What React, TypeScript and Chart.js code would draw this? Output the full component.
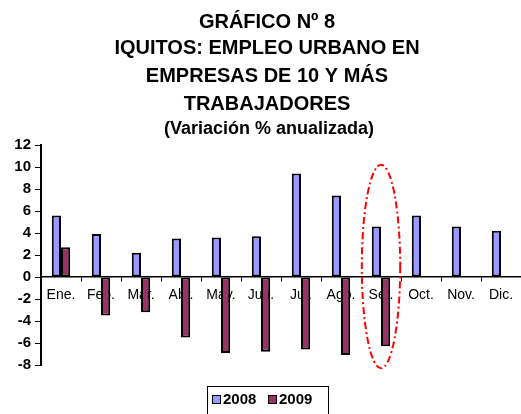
import React, { useEffect, useRef } from "react";
import { Chart, registerables } from "chart.js";

Chart.register(...registerables);

// ---- data ----
const categories = ["Ene.", "Feb.", "Mar.", "Abr.", "May.", "Jun.", "Jul.", "Ago.", "Set.", "Oct.", "Nov.", "Dic."];
const series2008: (number | null)[] = [5.6, 3.9, 2.2, 3.5, 3.6, 3.7, 9.4, 7.4, 4.6, 5.6, 4.6, 4.2];
const series2009: (number | null)[] = [2.7, -3.5, -3.2, -5.5, -6.9, -6.8, -6.6, -7.1, -6.3, null, null, null];
const seriesLabels = ["2008", "2009"];
const yMin = -8;
const yMax = 12;
const yStep = 2;
const titleLines = ["GRÁFICO Nº 8", "IQUITOS: EMPLEO URBANO EN", "EMPRESAS DE 10 Y MÁS", "TRABAJADORES"];
const subtitleText = "(Variación % anualizada)";
const highlightCategory = "Set.";
const highlightTop = 10.2;
const highlightBottom = -8.3;

// ---- styles ----
const FONT = "'Liberation Sans', Arial, sans-serif";
const COLORS = ["#9999FF", "#993366"];

const titlePlugin = {
  id: "customTitle",
  afterDraw(chart: any) {
    const ctx = chart.ctx;
    ctx.save();
    ctx.fillStyle = "#000";
    ctx.textAlign = "center";
    ctx.textBaseline = "alphabetic";
    const cx = 267;
    const baselines = [27.5, 54, 82, 110];
    ctx.font = `bold 20px ${FONT}`;
    titleLines.forEach((t, i) => ctx.fillText(t, cx, baselines[i]));
    ctx.font = `bold 18px ${FONT}`;
    ctx.fillText(subtitleText, 269, 134);
    ctx.restore();
  },
};

const ellipsePlugin = {
  id: "highlightEllipse",
  afterDraw(chart: any) {
    const x = chart.scales.x;
    const y = chart.scales.y;
    const idx = categories.indexOf(highlightCategory);
    const cx = x.getPixelForValue(idx);
    const top = y.getPixelForValue(highlightTop);
    const bottom = y.getPixelForValue(highlightBottom);
    const catW = (x.right - x.left) / categories.length;
    const rx = catW * 0.48;
    const ry = (bottom - top) / 2;
    const ctx = chart.ctx;
    ctx.save();
    ctx.strokeStyle = "#FF0000";
    ctx.lineWidth = 2;
    ctx.setLineDash([7, 3, 2, 3]);
    ctx.beginPath();
    ctx.ellipse(cx, top + ry, rx, ry, 0, 0, Math.PI * 2);
    ctx.stroke();
    ctx.restore();
  },
};

const legendPlugin = {
  id: "boxLegend",
  afterDraw(chart: any) {
    const ctx = chart.ctx;
    ctx.save();
    ctx.strokeStyle = "#000";
    ctx.lineWidth = 1;
    ctx.strokeRect(207.5, 386.5, 121, 40);
    ctx.font = `bold 15px ${FONT}`;
    ctx.textBaseline = "alphabetic";
    ctx.textAlign = "left";
    const starts = [212, 268];
    chart.data.datasets.forEach((ds: any, i: number) => {
      const sx = starts[i];
      ctx.fillStyle = ds.backgroundColor;
      ctx.fillRect(sx + 0.5, 395.5, 8, 8);
      ctx.strokeStyle = "#000";
      ctx.strokeRect(sx + 0.5, 395.5, 8, 8);
      ctx.fillStyle = "#000";
      ctx.fillText(ds.label, sx + 11, 403.5);
    });
    ctx.restore();
  },
};

export default function App() {
  const ref = useRef<HTMLCanvasElement | null>(null);

  useEffect(() => {
    if (!ref.current) return;
    const chart = new Chart(ref.current, {
      type: "bar",
      data: {
        labels: categories,
        datasets: [
          {
            label: seriesLabels[0],
            data: series2008,
            backgroundColor: COLORS[0],
            borderColor: "#000",
            borderWidth: 2,
            borderSkipped: false,
            barPercentage: 1,
            categoryPercentage: 0.46,
          },
          {
            label: seriesLabels[1],
            data: series2009,
            backgroundColor: COLORS[1],
            borderColor: "#000",
            borderWidth: 2,
            borderSkipped: false,
            barPercentage: 1,
            categoryPercentage: 0.46,
          },
        ],
      },
      options: {
        responsive: false,
        animation: false,
        layout: { padding: { top: 145, bottom: 49, left: 0, right: 0 } },
        plugins: {
          legend: { display: false },
          title: { display: false },
          tooltip: { enabled: false },
        },
        scales: {
          x: {
            type: "category",
            position: { y: 0 } as any,
            z: 1,
            offset: true,
            grid: {
              display: true,
              drawOnChartArea: false,
              drawTicks: true,
              tickLength: 4,
              color: "#000",
              offset: true,
            },
            border: { display: true, color: "#000", width: 1.5 },
            ticks: {
              color: "#000",
              font: { family: FONT, size: 14 },
              padding: 6,
              maxRotation: 0,
              autoSkip: false,
            },
          },
          y: {
            min: yMin,
            max: yMax,
            afterFit: (s: any) => {
              s.width = 41;
            },
            grid: {
              display: true,
              drawOnChartArea: false,
              drawTicks: true,
              tickLength: 6,
              color: "#000",
            },
            border: { display: true, color: "#000", width: 2 },
            ticks: {
              stepSize: yStep,
              color: "#000",
              font: { family: FONT, size: 15, weight: "bold" },
              padding: 4,
            },
          },
        },
      },
      plugins: [titlePlugin, ellipsePlugin, legendPlugin],
    });
    return () => chart.destroy();
  }, []);

  return (
    <div style={{ position: "absolute", left: 0, top: 0, width: 521, height: 414, background: "#fff" }}>
      <canvas ref={ref} width={521} height={414} />
    </div>
  );
}
